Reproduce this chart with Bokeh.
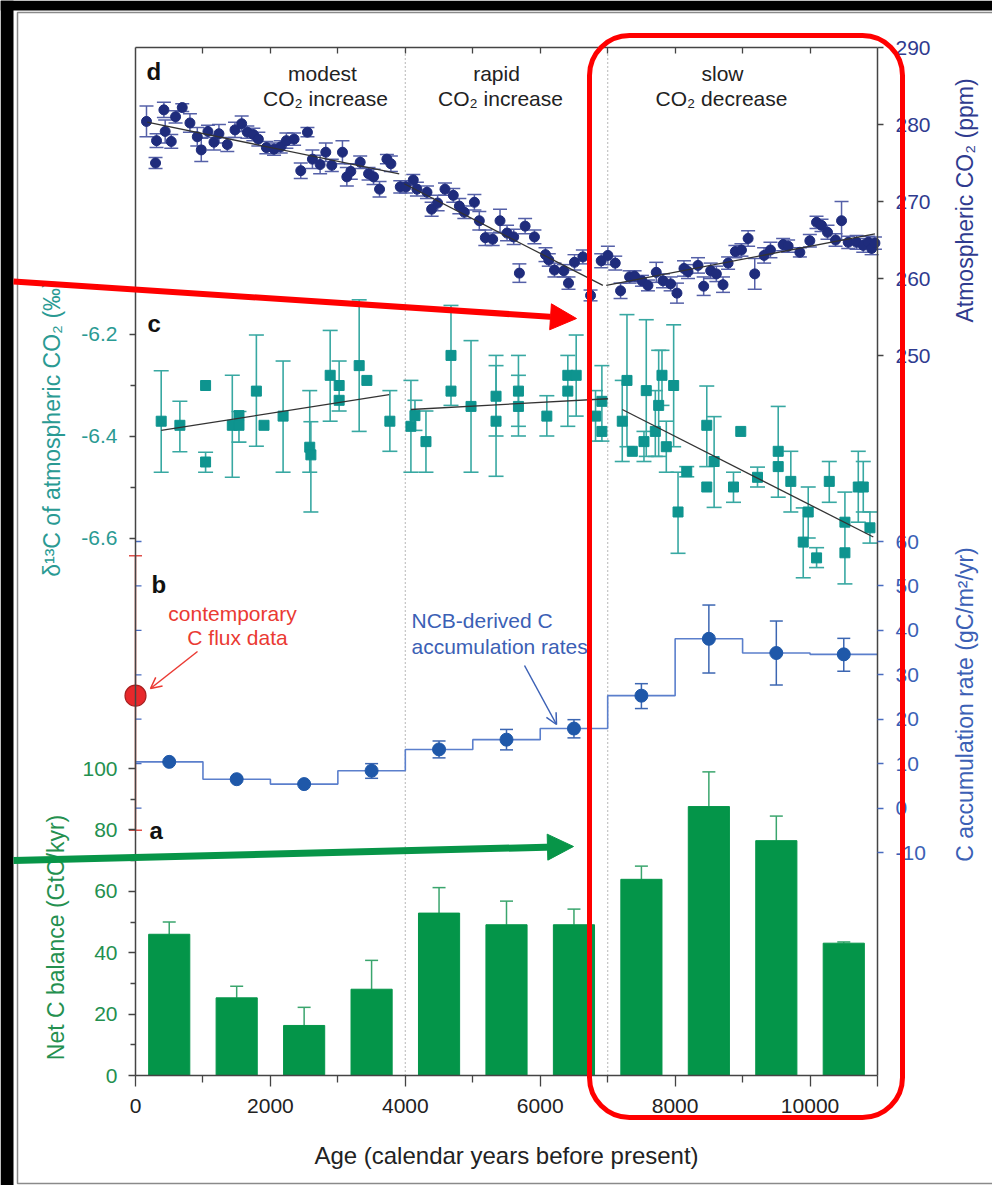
import math
from bokeh.plotting import figure
from bokeh.models import (Range1d, LinearAxis, FixedTicker, Label, Arrow, NormalHead, OpenHead,
                          BoxAnnotation, Whisker, TeeHead, ColumnDataSource)
from bokeh.embed import file_html
from bokeh.resources import INLINE

# ---------------- data ----------------
bin_age = [500, 1500, 2500, 3500, 4500, 5500, 6500, 7500, 8500, 9500, 10500]
net_c_balance = [46.0, 25.3, 16.3, 28.1, 52.9, 49.1, 49.1, 63.9, 87.6, 76.5, 43.1]
net_c_err_top = [50.0, 29.1, 22.2, 37.5, 61.2, 56.8, 54.2, 68.2, 98.9, 84.5, 43.5]

acc_rate = [10.4, 6.5, 5.4, 8.4, 13.2, 15.4, 17.9, 25.3, 38.1, 34.9, 34.6]
acc_lo = [math.nan, math.nan, math.nan, 6.7, 11.3, 13.1, 15.8, 22.4, 30.4, 27.7, 30.8]
acc_hi = [math.nan, math.nan, math.nan, 10.0, 15.1, 17.7, 19.9, 28.0, 45.7, 42.1, 38.2]
acc_ticks_left = [0, 10, 20, 30, 40, 50, 60]
acc_ticks_right = [-10, 0, 10, 20, 30, 40, 50, 60]

contemp_age = [0]
contemp_rate = [25.3]
contemp_lo = [-5.0]
contemp_hi = [56.8]

d13c_ticks = [-6.6, -6.4, -6.2]
d13c_minor = [-6.5, -6.3]
d13c_age = [381, 658, 1039, 1039, 1435, 1534, 1534, 1792, 1905, 2188, 2583, 2600, 2886, 3019, 3019, 3316, 3430, 3771,
            4083, 4143, 4306, 4677, 4677, 4974, 5345, 5345, 5677, 5677, 6098, 6409, 6409, 6533, 6820, 6914, 6914,
            7216, 7286, 7365, 7538, 7572, 7706, 7756, 7805, 7869, 7978, 8043, 8172, 8469, 8469, 8578, 8865, 8973,
            9221, 9528, 9528, 9715, 9899, 9973, 10097, 10285, 10517, 10517, 10715, 10789, 10888]
d13c_val = [-6.371, -6.379, -6.301, -6.451, -6.379, -6.360, -6.379, -6.312, -6.379, -6.361, -6.422, -6.437, -6.281,
            -6.301, -6.330, -6.262, -6.291, -6.371,
            -6.381, -6.360, -6.411, -6.242, -6.312, -6.342, -6.322, -6.371, -6.312, -6.342, -6.361, -6.312, -6.281,
            -6.281, -6.361, -6.332, -6.391,
            -6.371, -6.291, -6.430, -6.411, -6.311, -6.391, -6.340, -6.281, -6.421, -6.301, -6.549, -6.470, -6.379,
            -6.500, -6.450, -6.500, -6.391,
            -6.481, -6.430, -6.460, -6.489, -6.608, -6.549, -6.639, -6.489, -6.569, -6.629, -6.500, -6.500, -6.580]
N = math.nan
d13c_lo = [-6.471, -6.431, N, -6.471, -6.481, -6.412, N, -6.420, N, -6.471, -6.471, -6.549, -6.371,
           -6.351, N, -6.391, N, -6.430,
           -6.471, -6.389, -6.471, -6.340, N, -6.471, -6.400, -6.479, -6.381, -6.400, -6.400, -6.381, N,
           -6.361, -6.410, -6.410, N,
           -6.450, -6.421, N, -6.450, -6.440, -6.440, -6.440, -6.340, -6.471, -6.421, -6.630, -6.480, -6.460,
           N, -6.540, -6.530, N,
           -6.500, -6.520, N, -6.549, -6.678, -6.600, -6.658, -6.530, -6.690, N, -6.569, -6.549, -6.610]
d13c_hi = [-6.272, -6.332, N, -6.432, -6.281, -6.352, N, -6.202, N, -6.253, -6.311, -6.372, -6.193,
           -6.253, N, -6.133, N, -6.311,
           -6.291, -6.330, -6.351, -6.144, N, -6.213, -6.242, -6.262, -6.242, -6.281, -6.321, -6.242, N,
           -6.202, -6.311, -6.262, N,
           -6.291, -6.162, N, -6.391, -6.172, -6.311, -6.232, -6.232, -6.371, -6.182, -6.471, -6.460, -6.302,
           N, -6.362, -6.471, N,
           -6.461, -6.342, N, -6.430, -6.541, -6.500, -6.619, -6.450, -6.510, N, -6.430, -6.450, -6.549]
d13c_trend_age = [[381, 3761], [4083, 7003], [7216, 10938]]
d13c_trend_val = [[-6.389, -6.319], [-6.348, -6.327], [-6.348, -6.598]]

co2_ticks = [250, 260, 270, 280, 290]
co2_age = [163, 297, 312, 421, 440, 530, 594, 693, 807, 916, 975, 1074, 1163, 1237, 1361, 1475, 1574, 1658, 1747, 1821,
           1940, 2054, 2153, 2237, 2351, 2450, 2549, 2623, 2737, 2821, 2910, 3068, 3133, 3192, 3331, 3455, 3529, 3618, 3727, 3786,
           3925, 4009, 4118, 4172, 4321, 4390, 4479, 4588, 4711, 4801, 4875, 5024, 5097, 5186, 5295, 5404, 5508, 5607, 5691, 5776,
           5914, 6078, 6127, 6211, 6350, 6419, 6508, 6632, 6746, 6904, 7003, 7112, 7191, 7325, 7399, 7508, 7597, 7720, 7820, 7933,
           8027, 8131, 8191, 8339, 8423, 8527, 8611, 8710, 8785, 8893, 8983, 9082, 9180, 9319, 9413, 9601, 9675, 9849, 9997, 10096,
           10170, 10259, 10378, 10467, 10566, 10690, 10789, 10863, 10913, 10962]
co2_ppm = [280.4, 275.0, 277.9, 281.9, 279.1, 277.8, 281.0, 282.2, 280.2, 278.4, 276.7, 279.1, 277.7, 278.8, 277.4, 279.3, 280.1, 279.0, 278.7, 278.1,
           277.0, 276.8, 277.1, 277.9, 278.1, 274.0, 279.0, 275.5, 274.8, 276.4, 274.7, 276.4, 273.2, 273.9, 275.1, 273.6, 273.2, 271.6, 275.5, 274.9,
           271.9, 271.9, 272.8, 271.6, 271.2, 269.0, 269.8, 271.6, 270.8, 269.4, 268.6, 269.9, 267.5, 265.3, 265.1, 267.5, 265.9, 265.4, 260.7, 266.8,
           265.4, 263.1, 262.4, 261.1, 261.0, 259.4, 262.1, 262.8, 257.8, 262.3, 263.0, 262.0, 258.4, 260.2, 260.3, 259.7, 259.1, 260.8, 259.7, 259.3,
           258.1, 261.3, 260.9, 261.7, 259.0, 261.0, 260.6, 259.2, 262.0, 263.5, 263.7, 265.2, 260.6, 263.0, 263.7, 264.4, 264.2, 263.4, 264.9, 267.3,
           266.9, 266.0, 265.0, 267.5, 264.7, 264.7, 264.3, 264.7, 263.9, 264.6]
co2_err = [2.0, 0.7, 0.9, 1.0, 1.5, 0.9, 0.8, 0.5, 1.2, 1.2, 1.5, 0.8, 1.0, 1.2, 0.9, 1.0, 1.0, 0.8, 0.8, 0.9,
           0.8, 0.8, 0.8, 1.0, 0.8, 1.0, 0.6, 1.2, 1.2, 1.2, 0.8, 1.5, 1.2, 1.0, 0.8, 0.8, 1.0, 1.0, 0.6, 1.0,
           0.8, 0.8, 0.7, 0.9, 0.8, 0.9, 1.0, 0.8, 0.9, 1.0, 0.8, 1.0, 1.2, 1.0, 0.8, 1.5, 1.0, 1.0, 1.2, 1.0,
           0.9, 0.9, 0.8, 0.9, 0.8, 0.8, 1.0, 0.9, 0.7, 0.9, 1.2, 0.9, 1.0, 0.8, 0.7, 0.7, 0.7, 1.3, 0.9, 0.9,
           1.3, 1.0, 0.9, 1.0, 1.2, 1.0, 1.0, 1.0, 0.8, 0.8, 0.8, 1.0, 2.0, 1.0, 1.0, 0.8, 0.8, 0.6, 0.8, 0.8,
           0.8, 0.9, 0.8, 2.5, 0.8, 0.9, 0.9, 0.8, 0.8, 0.8]
co2_trend_age = [[173, 3910], [3984, 6929], [6979, 10962]]
co2_trend_ppm = [[280.3, 273.6], [272.3, 259.1], [259.1, 265.8]]

net_ticks = [0, 20, 40, 60, 80, 100]
net_minor = [10, 30, 50, 70, 90]
period_bounds = [4000, 7000]
x_major_ticks = [0, 2000, 4000, 6000, 8000, 10000, 11000]
x_minor_ticks = [1000, 3000, 5000, 7000, 9000]
top_ticks = [1000, 2000, 3000, 4000, 5000, 6000, 7000, 8000, 9000, 10000]

# ---------------- layout constants (canvas pixels) ----------------
W, H = 992, 1185
AX_L, AX_R, AX_T, AX_B = 135, 877, 47, 1075
sx = (AX_R - AX_L) / 11000.0
K_NET, K_D13, K_CO2, K_ACC = 3.07, 510.0, 7.7, 4.443   # px per unit

FONT = "Liberation Sans"
C_TEAL, C_TEAL_T = "#0e948f", "#2a9a93"
C_GREEN, C_GREEN_T = "#049549", "#24904f"
C_NAVY, C_NAVY_T = "#1f2c7c", "#2f3b8f"
C_BLUE, C_BLUE_T = "#1f58a9", "#3b60b5"
C_RED = "#e8282b"

p = figure(width=W, height=H, output_backend="svg", toolbar_location=None,
           x_range=Range1d(-AX_L / sx, (W - AX_L) / sx),
           y_range=Range1d(-(H - AX_B) / K_NET, AX_B / K_NET),
           x_axis_location=None, y_axis_location=None, min_border=0)
p.title.visible = False
p.grid.grid_line_color = None
p.outline_line_color = None
p.background_fill_color = "white"
p.border_fill_color = "white"

p.extra_y_ranges = {
    "d13c": Range1d(-6.6 - (H - 537.5) / K_D13, -6.6 + 537.5 / K_D13),
    "co2": Range1d(290 - (H - AX_T) / K_CO2, 290 + AX_T / K_CO2),
    "acc": Range1d(60 - (H - 541) / K_ACC, 60 + 541 / K_ACC),
    "py": Range1d(H, 0),
}
p.extra_x_ranges = {"px": Range1d(0, W)}

NET_TOP = (AX_B - AX_T) / K_NET
CO2_BOT = 290 - (AX_B - AX_T) / K_CO2

# ---------------- axes ----------------
def style_axis(ax, color_lab, tick_color="#444", out=6, minor_out=4, size="21px", standoff=10):
    ax.major_label_text_color = color_lab
    ax.major_label_text_font = FONT
    ax.major_label_text_font_size = size
    ax.major_tick_line_color = tick_color
    ax.minor_tick_line_color = tick_color
    ax.major_tick_in = 0
    ax.major_tick_out = out
    ax.minor_tick_in = 0
    ax.minor_tick_out = minor_out
    ax.major_tick_line_width = 1.3
    ax.minor_tick_line_width = 1.3
    ax.major_label_standoff = standoff
    ax.axis_line_color = "#444"
    ax.axis_line_width = 1.5

xb = LinearAxis(ticker=FixedTicker(ticks=x_major_ticks, minor_ticks=x_minor_ticks), bounds=(0, 11000),
                major_label_overrides={11000: ""}, fixed_location=0)
style_axis(xb, "#222", out=11, minor_out=7, standoff=12)
p.add_layout(xb, "below")

xt = LinearAxis(ticker=FixedTicker(ticks=top_ticks, minor_ticks=[]), bounds=(0, 11000), fixed_location=NET_TOP)
style_axis(xt, None)
xt.major_tick_in, xt.major_tick_out = 6, 0
xt.major_label_text_font_size = "0px"
p.add_layout(xt, "above")

ay_n = LinearAxis(ticker=FixedTicker(ticks=net_ticks, minor_ticks=net_minor),
                  fixed_location=0, bounds=(0, NET_TOP))
style_axis(ay_n, C_GREEN_T, out=7, minor_out=5, standoff=11)
p.add_layout(ay_n, "left")

ay_d = LinearAxis(y_range_name="d13c", ticker=FixedTicker(ticks=d13c_ticks, minor_ticks=d13c_minor),
                  fixed_location=0, major_label_overrides={t: "%.1f" % t for t in d13c_ticks})
style_axis(ay_d, C_TEAL_T, out=6, minor_out=5, standoff=12)
ay_d.axis_line_color = None
p.add_layout(ay_d, "left")

ay_c = LinearAxis(y_range_name="co2", ticker=FixedTicker(ticks=co2_ticks, minor_ticks=[]),
                  fixed_location=11000, bounds=(CO2_BOT, 290))
style_axis(ay_c, C_NAVY_T, out=6, standoff=12)
p.add_layout(ay_c, "right")

ay_a = LinearAxis(y_range_name="acc", ticker=FixedTicker(ticks=acc_ticks_right, minor_ticks=[]),
                  fixed_location=11000, major_label_overrides={t: "%d" % t for t in acc_ticks_right})
style_axis(ay_a, C_BLUE_T, tick_color="#4a6cc0", out=6, standoff=12)
ay_a.axis_line_color = None
p.add_layout(ay_a, "right")

# inward blue ticks of the accumulation scale on the left axis
p.ray(x=[0] * len(acc_ticks_left), y=acc_ticks_left, length=6, length_units="screen", angle=0,
      y_range_name="acc", line_color="#4a6cc0", line_width=1.3)

# period separators (between panel top and bottom axis)
for b in period_bounds:
    p.segment(x0=[b], y0=[0], x1=[b], y1=[NET_TOP], line_color="#888", line_dash="1 3", line_width=1.2)

# ---------------- panel a: bars ----------------
p.vbar(x=bin_age, top=net_c_balance, width=610, bottom=0, fill_color=C_GREEN, line_color=C_GREEN)
src_bar = ColumnDataSource(dict(x=bin_age, lo=net_c_balance, hi=net_c_err_top))
p.add_layout(Whisker(source=src_bar, base="x", lower="lo", upper="hi", dimension="height",
                     line_color="#3aa56d", line_width=1.5, lower_head=None,
                     upper_head=TeeHead(size=13, line_color="#3aa56d", line_width=1.5)))

# ---------------- panel b: accumulation rates ----------------
edges = [a - 500 for a in bin_age] + [bin_age[-1] + 500]
p.step(x=edges, y=acc_rate + [acc_rate[-1]], mode="after", y_range_name="acc",
       line_color="#5b7fcc", line_width=1.6)
keep = [i for i in range(len(bin_age)) if not math.isnan(acc_lo[i])]
src_acc = ColumnDataSource(dict(x=[bin_age[i] for i in keep], lo=[acc_lo[i] for i in keep],
                                hi=[acc_hi[i] for i in keep]))
p.add_layout(Whisker(source=src_acc, base="x", lower="lo", upper="hi", dimension="height",
                     y_range_name="acc", line_color="#3c66b2", line_width=1.5,
                     lower_head=TeeHead(size=13, line_color="#3c66b2", line_width=1.5),
                     upper_head=TeeHead(size=13, line_color="#3c66b2", line_width=1.5)))
p.scatter(x=bin_age, y=acc_rate, size=13, y_range_name="acc", fill_color=C_BLUE, line_color=C_BLUE)

src_ct = ColumnDataSource(dict(x=contemp_age, lo=contemp_lo, hi=contemp_hi))
p.add_layout(Whisker(source=src_ct, base="x", lower="lo", upper="hi", dimension="height",
                     y_range_name="acc", line_color="#e0504a", line_width=1.5,
                     lower_head=TeeHead(size=13, line_color="#e0504a", line_width=1.5),
                     upper_head=TeeHead(size=13, line_color="#e0504a", line_width=1.5)))
p.scatter(x=contemp_age, y=contemp_rate, size=21, y_range_name="acc", fill_color=C_RED, line_color="#a82020",
          line_width=1.2)

# ---------------- panel c: d13C ----------------
keep = [i for i in range(len(d13c_age)) if not math.isnan(d13c_lo[i])]
src_d = ColumnDataSource(dict(x=[d13c_age[i] for i in keep], lo=[d13c_lo[i] for i in keep],
                              hi=[d13c_hi[i] for i in keep]))
p.add_layout(Whisker(source=src_d, base="x", lower="lo", upper="hi", dimension="height",
                     y_range_name="d13c", line_color="#38a8a2", line_width=1.6,
                     lower_head=TeeHead(size=15, line_color="#38a8a2", line_width=1.6),
                     upper_head=TeeHead(size=15, line_color="#38a8a2", line_width=1.6)))
p.scatter(x=d13c_age, y=d13c_val, marker="square", size=10, y_range_name="d13c",
          fill_color=C_TEAL, line_color=C_TEAL)
p.multi_line(xs=d13c_trend_age, ys=d13c_trend_val, y_range_name="d13c", line_color="#333", line_width=1.3)

# ---------------- panel d: CO2 ----------------
src_c = ColumnDataSource(dict(x=co2_age, lo=[v - e for v, e in zip(co2_ppm, co2_err)],
                              hi=[v + e for v, e in zip(co2_ppm, co2_err)]))
p.add_layout(Whisker(source=src_c, base="x", lower="lo", upper="hi", dimension="height",
                     y_range_name="co2", line_color="#5560a8", line_width=1.5,
                     lower_head=TeeHead(size=14, line_color="#5560a8", line_width=1.5),
                     upper_head=TeeHead(size=14, line_color="#5560a8", line_width=1.5)))
p.scatter(x=co2_age, y=co2_ppm, size=10, y_range_name="co2", fill_color=C_NAVY, line_color=C_NAVY)
p.multi_line(xs=co2_trend_age, ys=co2_trend_ppm, y_range_name="co2", line_color="#333", line_width=1.3)

# ---------------- texts ----------------
def lab(x, y, text, color="#222", size="21px", align="center", style="normal", angle=0):
    p.add_layout(Label(x=x, y=y, text=text, x_range_name="px", y_range_name="py", text_color=color,
                       text_font=FONT, text_font_size=size, text_align=align, text_baseline="middle",
                       text_font_style=style, angle=angle, angle_units="deg"))

lab(146, 71, "d", size="24px", align="left", style="bold", color="#111")
lab(147, 323, "c", size="24px", align="left", style="bold", color="#111")
lab(151, 584, "b", size="24px", align="left", style="bold", color="#111")
lab(149, 830, "a", size="24px", align="left", style="bold", color="#111")

lab(322, 73, "modest")
lab(325, 98, "CO₂ increase")
lab(496, 73, "rapid")
lab(500, 98, "CO₂ increase")
lab(722, 73, "slow")
lab(721, 98, "CO₂ decrease")

lab(232, 613, "contemporary", color="#ea3a33")
lab(237, 637, "C flux data", color="#ea3a33")
lab(411, 620, "NCB-derived C", color="#3b60b5", align="left")
lab(411, 646, "accumulation rates", color="#3b60b5", align="left")

lab(51, 428, "δ¹³C of atmospheric CO₂ (‰)", color=C_TEAL_T, size="23px", angle=90)
lab(55, 937, "Net C balance (GtC/kyr)", color=C_GREEN_T, size="23px", angle=90)
lab(964, 200, "Atmospheric CO₂ (ppm)", color=C_NAVY_T, size="23px", angle=90)
lab(964, 704, "C accumulation rate (gC/m²/yr)", color=C_BLUE_T, size="23px", angle=90)
lab(506, 1155, "Age (calendar years before present)", size="24px")

# small annotation arrows
p.add_layout(Arrow(x_start=197, y_start=651, x_end=150, y_end=688, x_range_name="px", y_range_name="py",
                   line_color="#ea3a33", line_width=1.5,
                   end=OpenHead(size=11, line_color="#ea3a33", line_width=1.5)))
p.add_layout(Arrow(x_start=524, y_start=665, x_end=556, y_end=724, x_range_name="px", y_range_name="py",
                   line_color="#3b60b5", line_width=1.5,
                   end=OpenHead(size=11, line_color="#3b60b5", line_width=1.5)))

# screenshot frame and overlay highlights
p.add_layout(BoxAnnotation(left=0, right=13, top=0, bottom=H, x_range_name="px", y_range_name="py",
                           fill_color="black", fill_alpha=1, line_color=None))
p.add_layout(BoxAnnotation(left=0, right=W, top=0, bottom=10, x_range_name="px", y_range_name="py",
                           fill_color="black", fill_alpha=1, line_color=None))
p.add_layout(BoxAnnotation(left=17, right=W + 5, top=12, bottom=1183, x_range_name="px", y_range_name="py",
                           fill_color=None, fill_alpha=0, line_color="#8a8a8a", line_alpha=1, line_width=1.5))
p.add_layout(Arrow(x_start=13, y_start=281, x_end=576, y_end=318, x_range_name="px", y_range_name="py",
                   line_color="#ff0000", line_width=6,
                   end=NormalHead(size=26, fill_color="#ff0000", line_color="#ff0000")))
p.add_layout(Arrow(x_start=13, y_start=860, x_end=573, y_end=846, x_range_name="px", y_range_name="py",
                   line_color="#079548", line_width=7,
                   end=NormalHead(size=26, fill_color="#079548", line_color="#079548")))
p.add_layout(BoxAnnotation(left=589, right=902, top=35, bottom=1117, x_range_name="px", y_range_name="py",
                           fill_color=None, fill_alpha=0, line_color="#ff0000", line_alpha=1, line_width=5,
                           border_radius=40))

open("out.html", "w").write(file_html(p, INLINE))
